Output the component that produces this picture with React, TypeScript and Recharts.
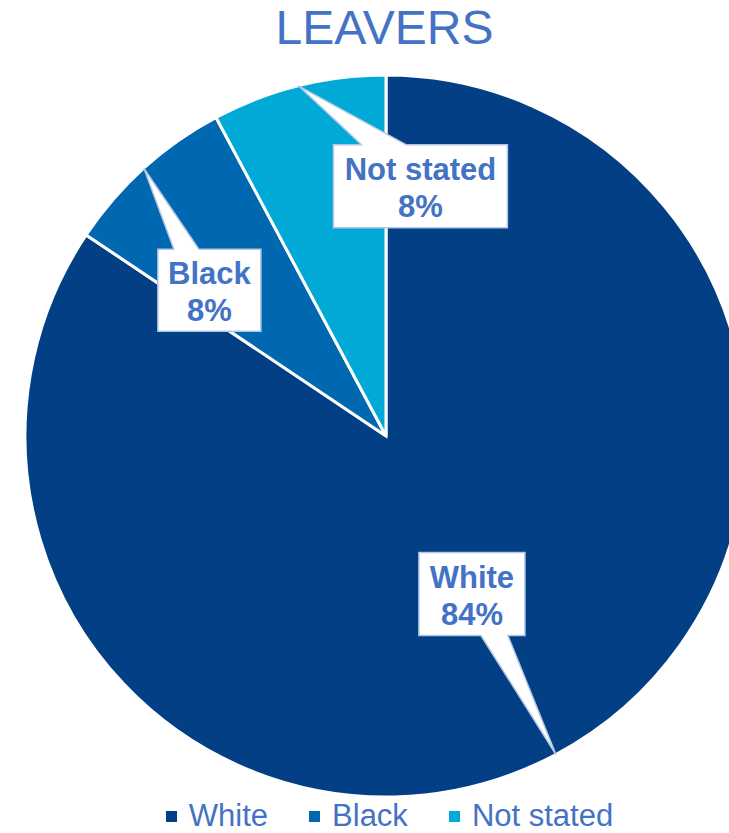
import { PieChart, Pie, Cell, Legend } from "recharts";

const categories = ["White", "Black", "Not stated"];
const values = [84.4, 7.8, 7.8];
const colors = ["#033F85", "#0068B0", "#00A9D6"];

const data = categories.map((name, i) => ({ name, value: values[i] }));

// callout box placement, relative to the point where the pointer touches the slice edge
const callouts: Record<string, { dx: number; dy: number; w: number; h: number; b0: number; b1: number; side: "top" | "bottom" }> = {
  White: { dx: -137, dy: -202, w: 106, h: 83, b0: 62, b1: 89, side: "bottom" },
  Black: { dx: 14, dy: 81, w: 103, h: 82, b0: 16, b1: 41, side: "top" },
  "Not stated": { dx: 35, dy: 59, w: 174, h: 83, b0: 28, b1: 73, side: "top" },
};

const RAD = Math.PI / 180;
const textBlue = "#4472C4";
const font = "'Liberation Sans', Arial, sans-serif";

function renderCallout(props: any) {
  const { cx, cy, midAngle, outerRadius, name, percent } = props;
  const c = callouts[name];
  if (!c) return null;
  const tx = cx + outerRadius * Math.cos(-midAngle * RAD);
  const ty = cy + outerRadius * Math.sin(-midAngle * RAD);
  const x = tx + c.dx;
  const y = ty + c.dy;
  const r = x + c.w;
  const b = y + c.h;
  let d;
  if (c.side === "top") {
    d = `M${x},${y} L${x + c.b0},${y} L${tx},${ty} L${x + c.b1},${y} L${r},${y} L${r},${b} L${x},${b} Z`;
  } else {
    d = `M${x},${y} L${r},${y} L${r},${b} L${x + c.b1},${b} L${tx},${ty} L${x + c.b0},${b} L${x},${b} Z`;
  }
  const mx = x + c.w / 2;
  return (
    <g>
      <path d={d} fill="#FFFFFF" stroke="#B4C7E7" strokeWidth={1.5} />
      <text x={mx} y={y + 35} textAnchor="middle" fill={textBlue} fontSize={31} fontWeight="bold" fontFamily={font}>
        {name}
      </text>
      <text x={mx} y={y + 72} textAnchor="middle" fill={textBlue} fontSize={31} fontWeight="bold" fontFamily={font}>
        {Math.round(percent * 100)}%
      </text>
    </g>
  );
}

function renderLegend() {
  return (
    <div style={{ display: "flex", justifyContent: "center", fontFamily: font, fontSize: 31, lineHeight: "34px", color: textBlue, paddingLeft: 50 }}>
      {categories.map((name, i) => (
        <div key={name} style={{ display: "flex", alignItems: "center", marginRight: i < categories.length - 1 ? 41 : 0 }}>
          <span style={{ display: "inline-block", width: 11, height: 11, background: colors[i], marginRight: 12 }} />
          <span>{name}</span>
        </div>
      ))}
    </div>
  );
}

export default function App() {
  return (
    <div style={{ position: "absolute", left: 0, top: 0, width: 729, height: 833, overflow: "hidden", background: "#fff" }}>
      <div
        style={{
          position: "absolute",
          top: 1,
          left: 0,
          width: 769,
          textAlign: "center",
          fontFamily: font,
          fontSize: 48,
          lineHeight: "54px",
          color: textBlue,
          zIndex: 2,
        }}
      >
        LEAVERS
      </div>
      <PieChart width={729} height={833} margin={{ top: 0, right: 0, bottom: 0, left: 0 }}>
        <Pie
          data={data}
          dataKey="value"
          nameKey="name"
          cx={386}
          cy={436}
          outerRadius={361}
          startAngle={90}
          endAngle={-270}
          stroke="#FFFFFF"
          strokeWidth={3}
          label={renderCallout}
          labelLine={false}
          isAnimationActive={false}
        >
          {data.map((d, i) => (
            <Cell key={d.name} fill={colors[i]} />
          ))}
        </Pie>
        <Legend content={renderLegend} wrapperStyle={{ top: 799, left: 0, width: 729 }} />
      </PieChart>
    </div>
  );
}
